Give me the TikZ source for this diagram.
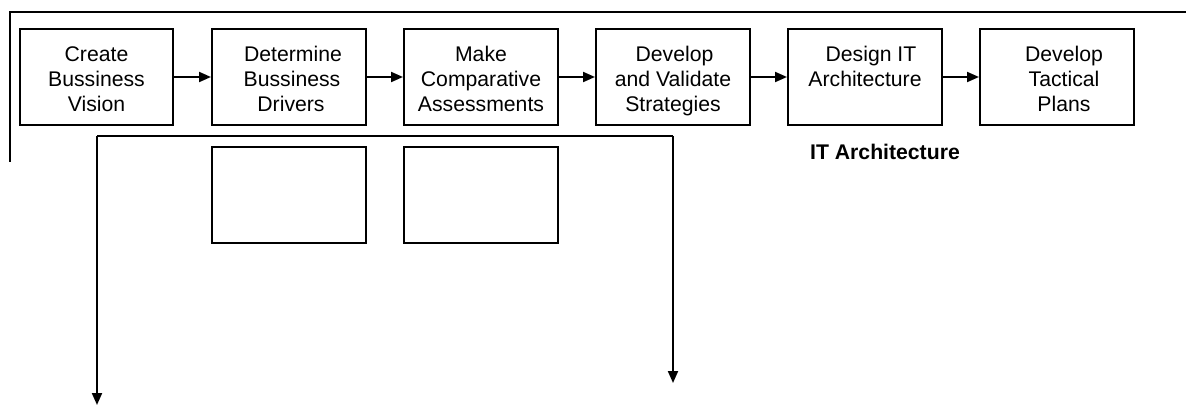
\documentclass[tikz,border=0pt]{standalone}
\usepackage{fontspec}
\setmainfont{Liberation Sans}
\usetikzlibrary{arrows.meta}
% equal height of the first line and depth of the last line of every step label
\newcommand\firstheight{\rule{0pt}{25pt}}
\newcommand\lastdepth{\rule[-5pt]{0pt}{5pt}}
\begin{document}
\begin{tikzpicture}[x=1pt,y=-1pt,
  stepbox/.style={draw,line width=2pt,minimum width=154pt,minimum height=96pt,
    inner sep=0pt,align=center,font=\fontsize{21.2}{25}\selectfont},
  flow/.style={line width=2pt,-{Triangle[length=12pt,width=10pt]}},
  rule/.style={line width=2pt}]
  \useasboundingbox (0,0) rectangle (1186,409);

  % frame along the top and left
  \coordinate (fl) at (10,162);
  \coordinate (ftl) at (10,12);
  \coordinate (fr) at (1186,12);
  \draw[rule] (fl) -- (ftl) -- (fr);

  % process steps
  \node[stepbox,minimum width=153pt] (s1) at (96.5,77) {\firstheight Create\\Bussiness\\Vision\lastdepth};
  \node[stepbox] (s2) at (289,77) {\firstheight\hspace*{8pt}Determine\\\hspace*{6pt}Bussiness\\\hspace*{4pt}Drivers\lastdepth};
  \node[stepbox] (s3) at (481,77) {\firstheight Make\\Comparative\\Assessments\lastdepth};
  \node[stepbox] (s4) at (673,77) {\firstheight\hspace*{3pt}Develop\\and Validate\\Strategies\lastdepth};
  \node[stepbox] (s5) at (865,77) {\firstheight\hspace*{12pt}Design IT\\Architecture\\\lastdepth};
  \node[stepbox] (s6) at (1057,77) {\firstheight\hspace*{14pt}Develop\\\hspace*{14pt}Tactical\\\hspace*{14pt}Plans\lastdepth};

  \draw[flow] (s1) -- (s2);
  \draw[flow] (s2) -- (s3);
  \draw[flow] (s3) -- (s4);
  \draw[flow] (s4) -- (s5);
  \draw[flow] (s5) -- (s6);

  % empty boxes below
  \node[stepbox] (b2) at (289,195) {};
  \node[stepbox] (b3) at (481,195) {};

  \node[font=\fontsize{21.2}{25}\selectfont\bfseries] (lbl) at (885,152) {IT Architecture};

  % branch line with two drop arrows
  \coordinate (bl) at (97,136);
  \coordinate (br) at (673,136);
  \coordinate (el) at (97,405);
  \coordinate (er) at (673,383);
  \draw[rule] (bl) -- (br);
  \draw[flow] (bl) -- (el);
  \draw[flow] (br) -- (er);
\end{tikzpicture}
\end{document}
